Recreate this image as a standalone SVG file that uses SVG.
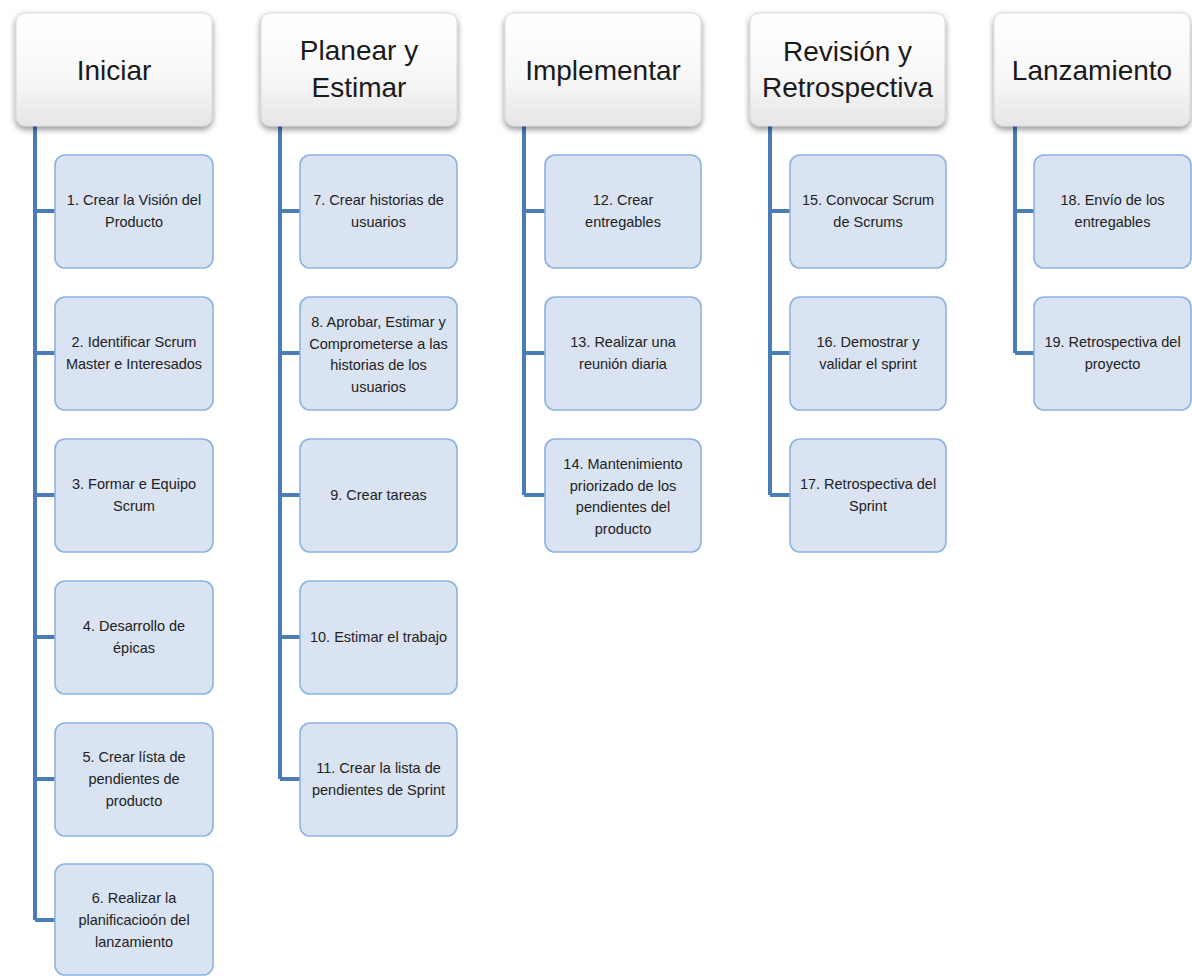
<svg xmlns="http://www.w3.org/2000/svg" width="1192" height="976" viewBox="0 0 1192 976">
  <defs>
    <linearGradient id="hdrFill" x1="0" y1="0" x2="0" y2="1">
      <stop offset="0" stop-color="#ffffff"/>
      <stop offset="0.55" stop-color="#f8f8f8"/>
      <stop offset="1" stop-color="#e6e6e6"/>
    </linearGradient>
    <filter id="hdrShadow" x="-10%" y="-10%" width="120%" height="130%">
      <feDropShadow dx="0" dy="3" stdDeviation="3" flood-color="#000" flood-opacity="0.45"/>
    </filter>
  </defs>
  <style>
    .hdr rect { fill: url(#hdrFill); stroke: #d0d0d0; stroke-width: 0.8; filter: url(#hdrShadow); }
    .hdr text { font-family: "Liberation Sans", Arial, sans-serif; font-size: 28px; fill: #1a1a1a; text-anchor: middle; }
    .task rect { fill: #d9e3f1; stroke: #8cb3e0; stroke-width: 1.6; }
    .task text { font-family: "Liberation Sans", Arial, sans-serif; font-size: 14.5px; fill: #222222; text-anchor: middle; }
    .conn path { fill: none; stroke: #4a7db8; stroke-width: 4; }
  </style>
  <rect width="1192" height="976" fill="#ffffff"/>

  <!-- tree connectors: one trunk per phase with branches to each task -->
  <g id="connectors" class="conn">
    <path d="M35 126 V920 M35 211 H55 M35 353 H55 M35 495 H55 M35 637 H55 M35 779 H55 M35 920 H55"/>
    <path d="M280 126 V779 M280 211 H300 M280 353 H300 M280 495 H300 M280 637 H300 M280 779 H300"/>
    <path d="M524 126 V495 M524 211 H545 M524 353 H545 M524 495 H545"/>
    <path d="M770 126 V495 M770 211 H790 M770 353 H790 M770 495 H790"/>
    <path d="M1015 126 V353 M1015 211 H1034 M1015 353 H1034"/>
  </g>

  <!-- phase headers -->
  <g id="phase-iniciar" class="hdr">
    <rect x="16" y="13" width="196" height="113" rx="9"/>
    <text x="114" y="80">Iniciar</text>
  </g>
  <g id="phase-planear" class="hdr">
    <rect x="261" y="13" width="196" height="113" rx="9"/>
    <text x="359" y="60">Planear y</text>
    <text x="359" y="97">Estimar</text>
  </g>
  <g id="phase-implementar" class="hdr">
    <rect x="505" y="13" width="196" height="113" rx="9"/>
    <text x="603" y="80">Implementar</text>
  </g>
  <g id="phase-revision" class="hdr">
    <rect x="750" y="13" width="195" height="113" rx="9"/>
    <text x="847.5" y="61">Revisión y</text>
    <text x="847.5" y="97">Retrospectiva</text>
  </g>
  <g id="phase-lanzamiento" class="hdr">
    <rect x="994" y="13" width="196" height="113" rx="9"/>
    <text x="1092" y="80">Lanzamiento</text>
  </g>

  <!-- Iniciar tasks -->
  <g id="task-1" class="task">
    <rect x="55" y="155" width="158" height="113" rx="10"/>
    <text x="134" y="205">1. Crear la Visión del</text>
    <text x="134" y="227">Producto</text>
  </g>
  <g id="task-2" class="task">
    <rect x="55" y="297" width="158" height="113" rx="10"/>
    <text x="134" y="347">2. Identificar Scrum</text>
    <text x="134" y="369">Master e Interesados</text>
  </g>
  <g id="task-3" class="task">
    <rect x="55" y="439" width="158" height="113" rx="10"/>
    <text x="134" y="489">3. Formar e Equipo</text>
    <text x="134" y="511">Scrum</text>
  </g>
  <g id="task-4" class="task">
    <rect x="55" y="581" width="158" height="113" rx="10"/>
    <text x="134" y="631">4. Desarrollo de</text>
    <text x="134" y="653">épicas</text>
  </g>
  <g id="task-5" class="task">
    <rect x="55" y="723" width="158" height="113" rx="10"/>
    <text x="134" y="762">5. Crear lísta de</text>
    <text x="134" y="784">pendientes de</text>
    <text x="134" y="806">producto</text>
  </g>
  <g id="task-6" class="task">
    <rect x="55" y="864" width="158" height="111" rx="10"/>
    <text x="134" y="903">6. Realizar la</text>
    <text x="134" y="925">planificacioón del</text>
    <text x="134" y="947">lanzamiento</text>
  </g>

  <!-- Planear y Estimar tasks -->
  <g id="task-7" class="task">
    <rect x="300" y="155" width="157" height="113" rx="10"/>
    <text x="378.5" y="205">7. Crear historias de</text>
    <text x="378.5" y="227">usuarios</text>
  </g>
  <g id="task-8" class="task">
    <rect x="300" y="297" width="157" height="113" rx="10"/>
    <text x="378.5" y="327">8. Aprobar, Estimar y</text>
    <text x="378.5" y="348.5">Comprometerse a las</text>
    <text x="378.5" y="370">historias de los</text>
    <text x="378.5" y="391.5">usuarios</text>
  </g>
  <g id="task-9" class="task">
    <rect x="300" y="439" width="157" height="113" rx="10"/>
    <text x="378.5" y="500">9. Crear tareas</text>
  </g>
  <g id="task-10" class="task">
    <rect x="300" y="581" width="157" height="113" rx="10"/>
    <text x="378.5" y="642">10. Estimar el trabajo</text>
  </g>
  <g id="task-11" class="task">
    <rect x="300" y="723" width="157" height="113" rx="10"/>
    <text x="378.5" y="773">11. Crear la lista de</text>
    <text x="378.5" y="795">pendientes de Sprint</text>
  </g>

  <!-- Implementar tasks -->
  <g id="task-12" class="task">
    <rect x="545" y="155" width="156" height="113" rx="10"/>
    <text x="623" y="205">12. Crear</text>
    <text x="623" y="227">entregables</text>
  </g>
  <g id="task-13" class="task">
    <rect x="545" y="297" width="156" height="113" rx="10"/>
    <text x="623" y="347">13. Realizar una</text>
    <text x="623" y="369">reunión diaria</text>
  </g>
  <g id="task-14" class="task">
    <rect x="545" y="439" width="156" height="113" rx="10"/>
    <text x="623" y="469">14. Mantenimiento</text>
    <text x="623" y="490.5">priorizado de los</text>
    <text x="623" y="512">pendientes del</text>
    <text x="623" y="533.5">producto</text>
  </g>

  <!-- Revisión y Retrospectiva tasks -->
  <g id="task-15" class="task">
    <rect x="790" y="155" width="156" height="113" rx="10"/>
    <text x="868" y="205">15. Convocar Scrum</text>
    <text x="868" y="227">de Scrums</text>
  </g>
  <g id="task-16" class="task">
    <rect x="790" y="297" width="156" height="113" rx="10"/>
    <text x="868" y="347">16. Demostrar y</text>
    <text x="868" y="369">validar el sprint</text>
  </g>
  <g id="task-17" class="task">
    <rect x="790" y="439" width="156" height="113" rx="10"/>
    <text x="868" y="489">17. Retrospectiva del</text>
    <text x="868" y="511">Sprint</text>
  </g>

  <!-- Lanzamiento tasks -->
  <g id="task-18" class="task">
    <rect x="1034" y="155" width="157" height="113" rx="10"/>
    <text x="1112.5" y="205">18. Envío de los</text>
    <text x="1112.5" y="227">entregables</text>
  </g>
  <g id="task-19" class="task">
    <rect x="1034" y="297" width="157" height="113" rx="10"/>
    <text x="1112.5" y="347">19. Retrospectiva del</text>
    <text x="1112.5" y="369">proyecto</text>
  </g>
</svg>
